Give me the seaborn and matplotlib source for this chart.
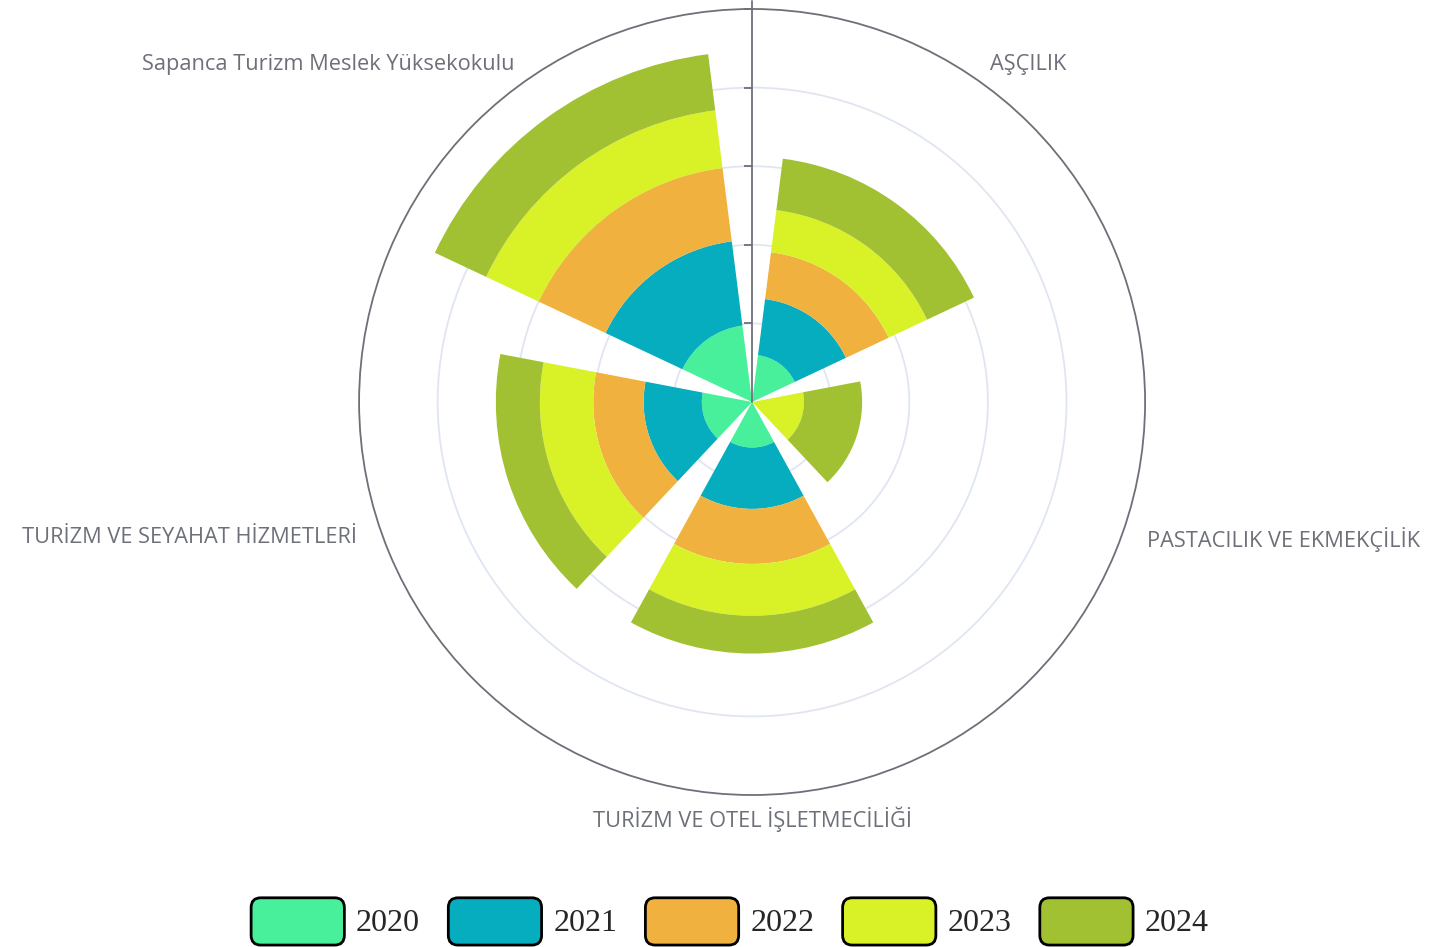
import numpy as np
import matplotlib
matplotlib.use('Agg')
import matplotlib.pyplot as plt
import seaborn as sns
from matplotlib.patches import FancyBboxPatch, Patch
from matplotlib.legend_handler import HandlerPatch
from matplotlib.path import Path

# --- data ---
categories = ['AŞÇILIK', 'PASTACILIK VE EKMEKÇİLİK', 'TURİZM VE OTEL İŞLETMECİLİĞİ',
              'TURİZM VE SEYAHAT HİZMETLERİ', 'Sapanca Turizm Meslek Yüksekokulu']
years = ['2020', '2021', '2022', '2023', '2024']
v2020 = [30, 0, 29, 32, 49]
v2021 = [36, 0, 39, 37, 54]
v2022 = [30, 0, 35, 32, 47]
v2023 = [27, 33, 33, 34, 37]
v2024 = [33, 37, 24, 28, 36]
colors = ['#48f09b', '#05adbf', '#f0b13e', '#d9f227', '#a1c132']
r_max = 250
r_ticks = [50, 100, 150, 200]

sns.set_style('white')
plt.rcParams['font.family'] = ['Open Sans', 'DejaVu Sans']

series = [v2020, v2021, v2022, v2023, v2024]
n = len(categories)
sector = 2 * np.pi / n
theta = np.arange(n) * sector + sector / 2

fig = plt.figure(figsize=(14.32, 9.47), dpi=100)
ax = fig.add_axes([0.2507, 0.1605, 0.549, 0.830], projection='polar')
ax.set_theta_zero_location('N')
ax.set_theta_direction(-1)
ax.set_ylim(0, r_max)

# stacked bars
bottom = np.zeros(n)
for vals, col in zip(series, colors):
    ax.bar(theta, vals, width=sector * 0.8, bottom=bottom, color=col,
           edgecolor='none', linewidth=0, zorder=3)
    bottom += np.array(vals)

# grid / axes styling
ax.set_yticks(r_ticks)
ax.set_yticklabels([])
ax.yaxis.grid(True, color='#e0e6f1', linewidth=1.3)
ax.xaxis.grid(False)
ax.set_xticks(np.arange(n) * sector)
ax.set_xticklabels([])
ax.tick_params(axis='x', direction='in', length=8, width=1.3, color='#6e7079')
ax.spines['polar'].set_color('#6e7079')
ax.spines['polar'].set_linewidth(1.3)

# radial axis line with small ticks pointing left
ax.plot([0, 0], [0, r_max * 1.02], color='#6e7079', lw=1.3, zorder=4, clip_on=False)
tick_marker = Path([[-1, 0], [0, 0]])
ax.plot([0] * (len(r_ticks) + 1), r_ticks + [r_max], linestyle='none',
        marker=tick_marker, markersize=11, markeredgewidth=1.3,
        color='#6e7079', zorder=4, clip_on=False)

# category labels around the circle
for t, name in zip(theta, categories):
    s, c = np.sin(t), np.cos(t)
    ha = 'center' if abs(s) < 0.3 else ('left' if s > 0 else 'right')
    va = 'center' if abs(c) < 0.3 else ('bottom' if c > 0 else 'top')
    dx = 7.5 * np.sign(s) if abs(c) < 0.5 else 0
    ax.annotate(name, xy=(t, 257), xytext=(dx, 0), textcoords='offset points',
                ha=ha, va=va, fontsize=15.7, color='#6e7079', annotation_clip=False)


class RoundBoxHandler(HandlerPatch):
    def create_artists(self, legend, orig_handle, xdescent, ydescent,
                       width, height, fontsize, trans):
        p = FancyBboxPatch((-xdescent + 1.5, -ydescent + 1.5), width - 3, height - 3,
                           boxstyle='round,pad=0,rounding_size=7',
                           facecolor=orig_handle.get_facecolor(),
                           edgecolor='black', linewidth=2, transform=trans)
        return [p]


handles = [Patch(facecolor=c, label=y) for c, y in zip(colors, years)]
fig.legend(handles=handles, loc='center', bbox_to_anchor=(0.509, 0.027), ncol=5,
           frameon=False, handler_map={Patch: RoundBoxHandler()},
           prop={'family': 'Liberation Serif', 'size': 23},
           handlelength=3.05, handleheight=2.1, handletextpad=0.3, columnspacing=0.82)

fig.savefig('out.png', dpi=100)
